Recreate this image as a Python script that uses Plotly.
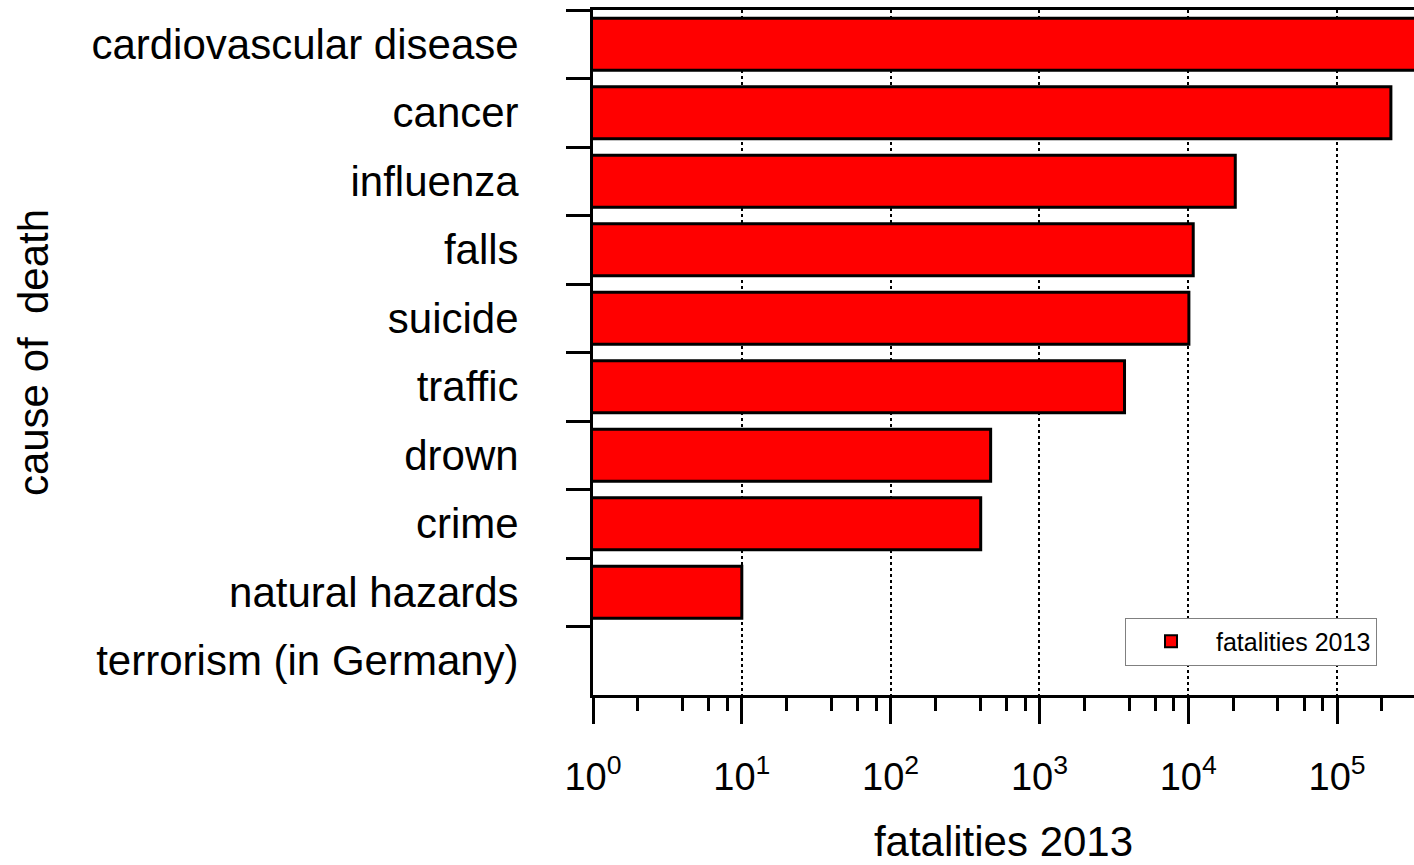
import plotly.graph_objects as go

categories = ["cardiovascular disease", "cancer", "influenza", "falls", "suicide",
              "traffic", "drown", "crime", "natural hazards", "terrorism (in Germany)"]
fatalities_2013 = [354000, 230000, 20700, 10800, 10100, 3730, 470, 403, 10, None]
major_ticks = [1, 10, 100, 1000, 10000, 100000]
major_labels = ["10<sup>0</sup>", "10<sup>1</sup>", "10<sup>2</sup>",
                "10<sup>3</sup>", "10<sup>4</sup>", "10<sup>5</sup>"]
minor_ticks = [m * d for d in major_ticks for m in (2, 4, 6, 8)]

FONT = "Arial, Liberation Sans, sans-serif"

fig = go.Figure()
fig.add_trace(go.Bar(
    x=fatalities_2013, y=categories, orientation="h",
    name="fatalities 2013",
    marker=dict(color="#FF0000", line=dict(color="black", width=3)),
    width=0.76,
))

fig.update_layout(
    width=1414, height=865,
    margin=dict(l=593, r=0, t=10, b=170),
    paper_bgcolor="white", plot_bgcolor="white",
    font=dict(family=FONT, color="black"),
    showlegend=True,
    legend=dict(x=0.648, y=0.078, xanchor="left", yanchor="middle",
                bgcolor="white", bordercolor="#808080", borderwidth=1,
                itemwidth=80, itemsizing="constant",
                font=dict(size=25, family=FONT)),
    xaxis=dict(
        type="log", range=[0, 5.517], automargin=False,
        showline=True, linecolor="black", linewidth=3, mirror=True,
        tickmode="array", tickvals=major_ticks, ticktext=major_labels,
        ticks="outside", ticklen=26, tickwidth=3, tickcolor="black",
        tickfont=dict(size=38, family=FONT),
        ticklabelstandoff=20,
        showgrid=True, gridcolor="black", gridwidth=2, griddash="dot",
        minor=dict(tickmode="array", tickvals=minor_ticks, ticks="outside",
                   ticklen=13, tickwidth=3, tickcolor="black", showgrid=False),
        title=dict(text="fatalities 2013", font=dict(size=42, family=FONT), standoff=50),
        zeroline=False,
    ),
    yaxis=dict(
        type="category", categoryorder="array", categoryarray=categories,
        range=[9.5, -0.5], automargin=False,
        showline=True, linecolor="black", linewidth=3,
        ticks="outside", tickson="boundaries", ticklen=24, tickwidth=3, tickcolor="black",
        tickfont=dict(size=42, family=FONT),
        ticklabelstandoff=63,
        showgrid=False,
        title=dict(text="cause of  death", font=dict(size=42, family=FONT), standoff=30),
    ),
)

fig.write_html("out.html")
